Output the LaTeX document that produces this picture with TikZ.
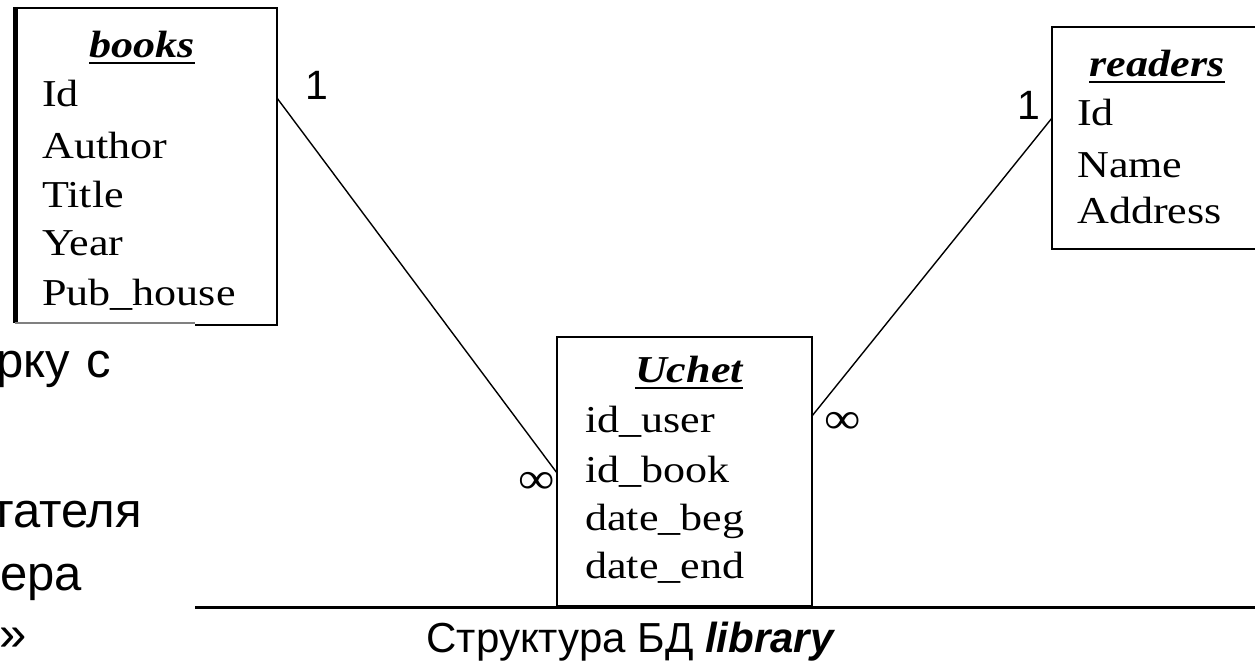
\documentclass[tikz,border=0pt]{standalone}
\usepackage{fontspec}
\setmainfont{Liberation Sans}
\newfontfamily\tabfont{Liberation Serif}[FakeStretch=1.16]
\begin{document}
\begin{tikzpicture}[x=1pt,y=-1pt,
  tablebox/.style={draw=black, line width=2pt, fill=none, inner sep=0pt},
  rowtext/.style={anchor=base west, inner sep=0pt, font=\tabfont\fontsize{38}{45}\selectfont},
  titletext/.style={anchor=base, inner sep=0pt, font=\tabfont\fontsize{38}{45}\selectfont\bfseries\itshape},
  titleline/.style={line width=1.6pt},
  link/.style={line width=1.4pt},
  cardone/.style={inner sep=0pt, font=\fontsize{41}{48}\selectfont},
  cardmany/.style={inner sep=0pt, font=\tabfont\fontsize{44}{48}\selectfont},
  slidetext/.style={anchor=base west, inner sep=0pt, font=\fontsize{49}{56}\selectfont}]
\useasboundingbox (0,0) rectangle (1255,661);
\fill[white] (0,0) rectangle (1255,661);

% partial slide text at left
\node[slidetext] (s1) at (-4,377) {рку\hspace{3pt} с};
\node[slidetext] (s2) at (-9,527) {тателя};
\node[slidetext] (s3) at (0,590) {ера};
\node[slidetext] (s4) at (-1,650) {»};

% books box
\node[tablebox, draw=none, minimum width=262pt, minimum height=316pt] (books) at (146,166) {};
\draw[line width=2pt] (195,324.5) -- (277,324.5) -- (277,8) -- (15,8);
\draw[line width=5pt] (15.5,7) -- (15.5,323);
\draw[line width=1.2pt, gray] (15,323) -- (195,323);
\node[titletext] (bt) at (142,58) {books};
\draw[titleline] ([yshift=-5pt]bt.base west) -- ([yshift=-5pt]bt.base east);
\node[rowtext] (b1) at (42,106) {Id};
\node[rowtext] (b2) at (42,158) {Author};
\node[rowtext] (b3) at (42,207) {Title};
\node[rowtext] (b4) at (42,255) {Year};
\node[rowtext] (b5) at (42,305) {Pub\_house};

% readers box
\node[tablebox, minimum width=210pt, minimum height=222pt] (readers) at (1157,138) {};
\node[titletext] (rt) at (1157,77) {readers};
\draw[titleline] ([yshift=-5pt]rt.base west) -- ([yshift=-5pt]rt.base east);
\node[rowtext] (r1) at (1077,125) {Id};
\node[rowtext] (r2) at (1077,177) {Name};
\node[rowtext] (r3) at (1077,223) {Address};

% Uchet box
\node[tablebox, minimum width=255pt, minimum height=269pt] (uchet) at (684.5,471.5) {};
\node[titletext] (ut) at (689,382) {Uchet};
\draw[titleline] ([yshift=-6pt]ut.base west) -- ([yshift=-6pt]ut.base east);
\node[rowtext] (u1) at (585,432) {id\_user};
\node[rowtext] (u2) at (585,482) {id\_book};
\node[rowtext] (u3) at (585,530) {date\_beg};
\node[rowtext] (u4) at (585,578) {date\_end};

% bottom rule and caption
\coordinate (ruleL) at (195,607);
\coordinate (ruleR) at (1255,607);
\draw[line width=3pt] (ruleL) -- (ruleR);
\node[anchor=base, inner sep=0pt, font=\fontsize{42}{48}\selectfont] (cap) at (631,652) {Структура БД \textbf{\textit{library}}};

% connectors
\coordinate (booksR) at (277,98);
\coordinate (uchetL) at (557,473);
\coordinate (uchetR) at (812,416);
\coordinate (readersL) at (1052,118);
\draw[link] (booksR) -- (uchetL);
\draw[link] (uchetR) -- (readersL);

% cardinalities
\node[cardone] (c1) at (317,85) {1};
\node[cardone] (c2) at (1029,105) {1};
\node[cardmany] (m1) at (537,483) {∞};
\node[cardmany] (m2) at (843,423) {∞};
\end{tikzpicture}
\end{document}
